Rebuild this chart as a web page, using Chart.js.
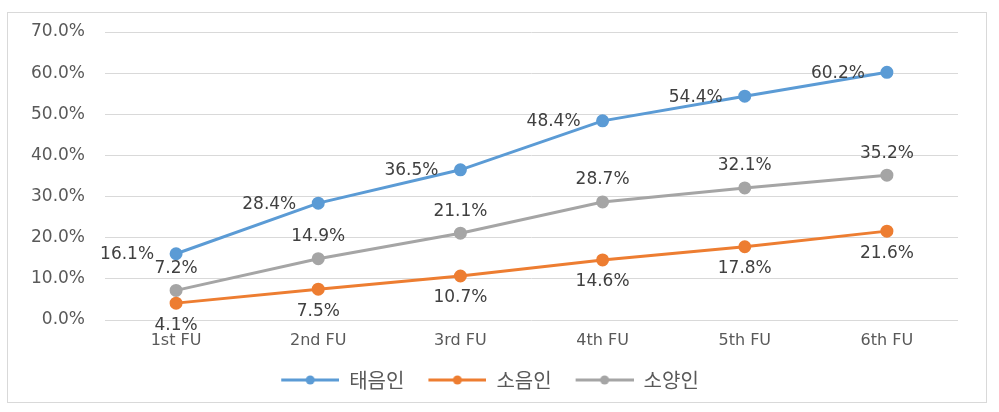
<!DOCTYPE html>
<html>
<head>
<meta charset="utf-8">
<script src="https://cdn.jsdelivr.net/npm/chart.js@4.4.0/dist/chart.umd.min.js"></script>
<style>
  body { margin: 0; background: #fff; }
  #box { position: absolute; left: 7px; top: 12px; width: 978px; height: 389px; border: 1px solid #d9d9d9; }
</style>
</head>
<body>
<div id="box"><canvas id="myLineChart" width="978" height="389"></canvas></div>
<script>
// datos del grafico
const categorias = ['1st FU', '2nd FU', '3rd FU', '4th FU', '5th FU', '6th FU'];
const taeeumin = [16.1, 28.4, 36.5, 48.4, 54.4, 60.2];
const soeumin = [4.1, 7.5, 10.7, 14.6, 17.8, 21.6];
const soyangin = [7.2, 14.9, 21.1, 28.7, 32.1, 35.2];
const nombres = ['태음인', '소음인', '소양인'];

const fuente = 'DejaVu Sans';

// icono de leyenda: linea con punto (con margen a la izquierda)
function iconoLeyenda(color) {
    const c = document.createElement('canvas');
    c.width = 72; c.height = 12;
    const g = c.getContext('2d');
    g.strokeStyle = color; g.lineWidth = 3;
    g.beginPath(); g.moveTo(14, 6); g.lineTo(72, 6); g.stroke();
    g.fillStyle = color;
    g.beginPath(); g.arc(43, 6, 4.5, 0, Math.PI * 2); g.fill();
    return c;
}

// etiquetas de datos
const etiquetas = {
    id: 'etiquetas',
    afterDatasetsDraw(chart) {
        const ctx = chart.ctx;
        ctx.save();
        ctx.font = '17px ' + fuente;
        ctx.fillStyle = '#404040';
        chart.data.datasets.forEach((ds, i) => {
            chart.getDatasetMeta(i).data.forEach((p, j) => {
                const txt = ds.data[j].toFixed(1) + '%';
                ctx.textBaseline = 'middle';
                if (ds.posEtiqueta === 'left') {
                    ctx.textAlign = 'right';
                    ctx.fillText(txt, p.x - 22, p.y + 1);
                } else if (ds.posEtiqueta === 'above') {
                    ctx.textAlign = 'center';
                    ctx.fillText(txt, p.x, p.y - 22);
                } else {
                    ctx.textAlign = 'center';
                    ctx.fillText(txt, p.x, p.y + 22);
                }
            });
        });
        ctx.restore();
    }
};

const colores = ['#5B9BD5', '#ED7D31', '#A5A5A5'];
const series = [taeeumin, soeumin, soyangin];
const posiciones = ['left', 'below', 'above'];

const ctx = document.getElementById('myLineChart').getContext('2d');
const myChart = new Chart(ctx, {
    type: 'line',
    data: {
        labels: categorias,
        datasets: series.map((d, i) => ({
            label: nombres[i],
            data: d,
            borderColor: colores[i],
            backgroundColor: colores[i],
            borderWidth: 3,
            pointRadius: 5,
            pointHoverRadius: 5,
            pointStyle: 'circle',
            tension: 0,
            posEtiqueta: posiciones[i]
        }))
    },
    options: {
        responsive: false,
        animation: false,
        layout: { padding: { top: 19, right: 28, bottom: 2, left: 0 } },
        scales: {
            x: {
                offset: true,
                grid: { display: false, drawTicks: false },
                border: { display: false },
                ticks: { padding: 11, color: '#595959', font: { family: fuente, size: 16 } },
                afterFit(scale) { scale.height = 40; }
            },
            y: {
                min: 0, max: 70,
                grid: { color: '#d9d9d9', drawTicks: true, tickLength: 16, tickColor: 'rgba(0,0,0,0)' },
                border: { display: false },
                ticks: {
                    stepSize: 10, padding: 4, color: '#595959',
                    font: { family: fuente, size: 17 },
                    callback: v => v.toFixed(1) + '%'
                },
                afterFit(scale) { scale.width = 97; }
            }
        },
        plugins: {
            legend: {
                position: 'bottom',
                labels: {
                    usePointStyle: true,
                    pointStyleWidth: 72,
                    padding: 10,
                    color: '#595959',
                    font: { family: 'Noto Sans CJK KR', size: 20 },
                    generateLabels(chart) {
                        return chart.data.datasets.map((ds, i) => ({
                            text: ds.label,
                            pointStyle: iconoLeyenda(colores[i]),
                            fillStyle: colores[i],
                            strokeStyle: colores[i],
                            lineWidth: 0,
                            fontColor: '#595959',
                            datasetIndex: i
                        }));
                    }
                }
            },
            tooltip: { enabled: false }
        }
    },
    plugins: [etiquetas]
});
</script>
</body>
</html>
